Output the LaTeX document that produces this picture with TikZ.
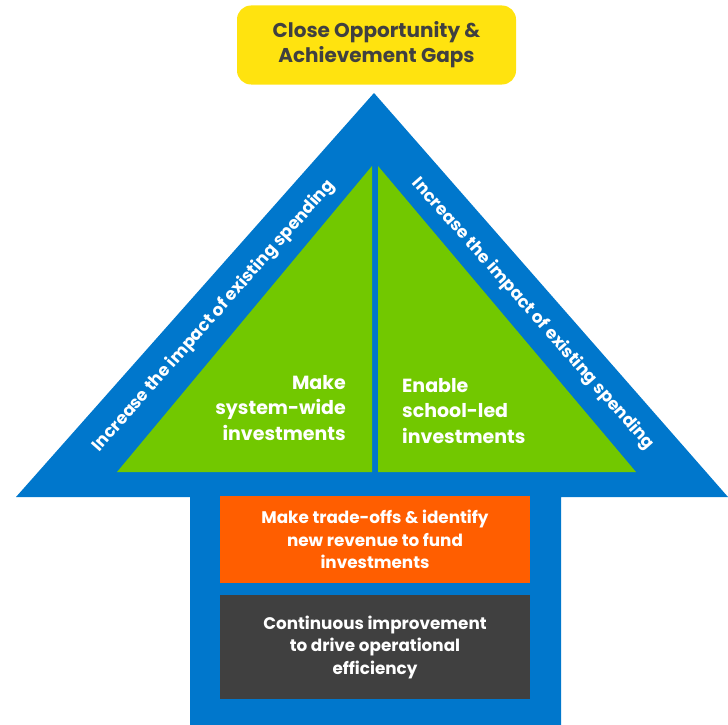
\documentclass[tikz,border=0pt]{standalone}
\usepackage{fontspec}
\setmainfont{Poppins}
\definecolor{arrowblue}{RGB}{0,119,204}
\definecolor{leafgreen}{RGB}{114,200,0}
\definecolor{goalyellow}{RGB}{255,227,15}
\definecolor{fundorange}{RGB}{255,94,0}
\definecolor{darkbox}{RGB}{64,64,64}
\definecolor{darktext}{RGB}{64,64,64}
\begin{document}
\begin{tikzpicture}[x=1pt,y=-1pt,
  wtext/.style={text=white,font=\bfseries\fontsize{16.8}{22.5}\selectfont,align=center,inner sep=0pt},
  gtext/.style={text=white,font=\bfseries\fontsize{19}{25.5}\selectfont,inner sep=0pt},
  sidetext/.style={text=white,font=\bfseries\fontsize{17}{18}\selectfont,inner sep=0pt}]
\useasboundingbox (0,0) rectangle (728,725);
% arrow
\fill[arrowblue] (190,497) -- (16,497) -- (374,93) -- (728,497) -- (561,497) -- (561,725) -- (190,725) -- cycle;
% green halves
\fill[leafgreen] (372,166) -- (372,472) -- (117,472) -- cycle;
\fill[leafgreen] (378,166) -- (378,472) -- (636,472) -- cycle;
% goal box
\node[fill=goalyellow,rounded corners=14pt,minimum width=279pt,minimum height=79pt,inner sep=0pt,
  text=darktext,font=\bfseries\fontsize{20}{25}\selectfont,align=center] (goal) at (376.5,45)
  {Close Opportunity \&\\Achievement Gaps};
% side labels
\node[sidetext,rotate=48.5] (leftlbl) at (214,316) {Increase the impact of existing spending};
\node[sidetext,rotate=-48.5] (rightlbl) at (533,314) {Increase the impact of existing spending};
% green texts
\node[gtext,align=right,anchor=east] (sys) at (346,408) {Make\\system-wide\\investments};
\node[gtext,align=left,anchor=west] (school) at (402,411) {Enable\\school-led\\investments};
% bottom boxes
\node[fill=fundorange,minimum width=310pt,minimum height=87pt,wtext] (fund) at (375,539.5)
  {Make trade-offs \& identify\\new revenue to fund\\investments};
\node[fill=darkbox,minimum width=310pt,minimum height=104pt,wtext] (improve) at (375,647)
  {Continuous improvement\\to drive operational\\efficiency};
\end{tikzpicture}
\end{document}
